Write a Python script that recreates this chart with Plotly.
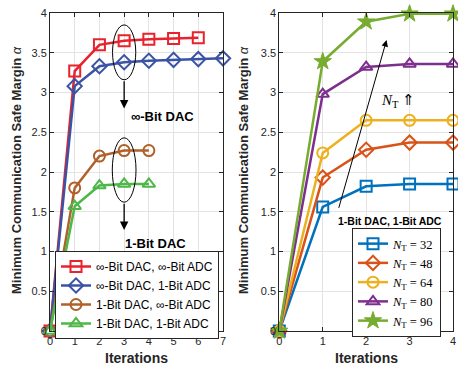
import plotly.graph_objects as go

# ---------------- data ----------------
iters_l_7 = [0, 1, 2, 3, 4, 5, 6, 7]
iters_l_6 = [0, 1, 2, 3, 4, 5, 6]
iters_l_4 = [0, 1, 2, 3, 4]
inf_dac_inf_adc = [0, 3.27, 3.60, 3.65, 3.67, 3.68, 3.69]
inf_dac_1_adc = [0, 3.08, 3.33, 3.38, 3.40, 3.41, 3.42, 3.43]
one_dac_inf_adc = [0, 1.80, 2.20, 2.27, 2.27]
one_dac_1_adc = [0, 1.57, 1.83, 1.85, 1.85]
left_names = ["∞-Bit DAC, ∞-Bit ADC", "∞-Bit DAC, 1-Bit ADC",
              "1-Bit DAC, ∞-Bit ADC", "1-Bit DAC, 1-Bit ADC"]

iters_r = [0, 1, 2, 3, 4]
nt_values = [32, 48, 64, 80, 96]
nt32 = [0, 1.56, 1.82, 1.85, 1.85]
nt48 = [0, 1.93, 2.28, 2.37, 2.37]
nt64 = [0, 2.24, 2.65, 2.65, 2.65]
nt80 = [0, 2.98, 3.32, 3.36, 3.36]
nt96 = [0, 3.39, 3.89, 3.99, 3.99]

x_ticks_left = [0, 1, 2, 3, 4, 5, 6, 7]
x_ticks_right = [0, 1, 2, 3, 4]
y_ticks = [0, 0.5, 1, 1.5, 2, 2.5, 3, 3.5, 4]
y_tick_labels = ["0", "0.5", "1", "1.5", "2", "2.5", "3", "3.5", "4"]

# ---------------- figure ----------------
W, H = 458, 367
fig = go.Figure()

left_series = [
    (iters_l_6, inf_dac_inf_adc, "#E8232D", "square-open"),
    (iters_l_7, inf_dac_1_adc, "#3B53A4", "diamond-open"),
    (iters_l_4, one_dac_inf_adc, "#B0602A", "circle-open"),
    (iters_l_4, one_dac_1_adc, "#4DB848", "triangle-up-open"),
]
for (xs, ys, col, sym), name in zip(left_series, left_names):
    fig.add_trace(go.Scatter(
        x=xs, y=ys, name=name, mode="lines+markers", xaxis="x", yaxis="y",
        line=dict(color=col, width=2.5),
        marker=dict(symbol=sym, size=11, color=col, line=dict(width=2, color=col)),
        cliponaxis=False, legend="legend"))

right_cols = ["#0072BD", "#D95319", "#EDB120", "#7E2F8E", "#77AC30"]
right_syms = ["square-open", "diamond-open", "circle-open", "triangle-up-open", "star"]
right_data = [nt32, nt48, nt64, nt80, nt96]
for nt, ys, col, sym in zip(nt_values, right_data, right_cols, right_syms):
    fig.add_trace(go.Scatter(
        x=iters_r, y=ys, name=f"<i>N</i><sub>T</sub> = {nt}", mode="lines+markers",
        xaxis="x2", yaxis="y2",
        line=dict(color=col, width=2.5),
        marker=dict(symbol=sym, size=13 if sym == "star" else 11, color=col,
                    line=dict(width=2 if sym != "star" else 1, color=col)),
        cliponaxis=False, legend="legend2"))

ydom = [(H - 331) / H, (H - 13) / H]
axis_common = dict(
    showgrid=True, gridcolor="#E3E3E3", gridwidth=1,
    showline=True, linecolor="#262626", linewidth=1, mirror="ticks",
    ticks="inside", ticklen=4, tickcolor="#262626",
    tickfont=dict(family="Liberation Sans, Arial", size=11, color="#262626"),
    zeroline=False,
)
fig.update_layout(
    width=W, height=H, margin=dict(l=0, r=0, t=0, b=0, autoexpand=False),
    plot_bgcolor="white", paper_bgcolor="white",
    font=dict(family="Liberation Sans, Arial", color="#262626"),
    xaxis=dict(domain=[50 / W, 223 / W], range=[0, 7], tickvals=x_ticks_left,
               anchor="y", **axis_common),
    yaxis=dict(domain=ydom, range=[0, 4], tickvals=y_ticks, ticktext=y_tick_labels,
               anchor="x", **axis_common),
    xaxis2=dict(domain=[279.3 / W, 453 / W], range=[0, 4], tickvals=x_ticks_right,
                anchor="y2", **axis_common),
    yaxis2=dict(domain=ydom, range=[0, 4], tickvals=y_ticks, ticktext=y_tick_labels,
                anchor="x2", **axis_common),
    legend=dict(x=55 / W, y=1 - 251 / H, xanchor="left", yanchor="top",
                bgcolor="white", bordercolor="#262626", borderwidth=1,
                font=dict(family="Liberation Sans, Arial", size=12, color="#000"),
                tracegroupgap=0, itemwidth=30),
    legend2=dict(x=352 / W, y=1 - 228 / H, xanchor="left", yanchor="top",
                 bgcolor="white", bordercolor="#262626", borderwidth=1,
                 font=dict(family="Liberation Serif, Times New Roman", size=12.5, color="#000"),
                 tracegroupgap=0, itemwidth=30),
    showlegend=True,
)

# ellipses
fig.add_shape(type="circle", xref="x", yref="y", x0=2.53, x1=3.47, y0=3.16, y1=3.85,
              line=dict(color="black", width=1))
fig.add_shape(type="circle", xref="x", yref="y", x0=2.52, x1=3.48, y0=1.62, y1=2.43,
              line=dict(color="black", width=1))

annos = [
    dict(x=3, y=2.8, ax=3, ay=3.16, xref="x", yref="y", axref="x", ayref="y",
         text="", showarrow=True, arrowhead=2, arrowsize=1.3, arrowwidth=1.3, arrowcolor="black"),
    dict(x=3, y=1.27, ax=3, ay=1.62, xref="x", yref="y", axref="x", ayref="y",
         text="", showarrow=True, arrowhead=2, arrowsize=1.3, arrowwidth=1.3, arrowcolor="black"),
    dict(x=4.55, y=2.7, xref="x", yref="y", text="<b>∞-Bit DAC</b>", showarrow=False,
         font=dict(family="Liberation Sans, Arial", size=13, color="black")),
    dict(x=4.28, y=1.1, xref="x", yref="y", text="<b>1-Bit DAC</b>", showarrow=False,
         font=dict(family="Liberation Sans, Arial", size=13, color="black")),
    dict(x=2.47, y=3.66, ax=1.36, ay=1.53, xref="x2", yref="y2", axref="x2", ayref="y2",
         text="", showarrow=True, arrowhead=2, arrowsize=1.3, arrowwidth=1, arrowcolor="black"),
    dict(x=2.73, y=2.89, xref="x2", yref="y2", text="<i>N</i><sub>T</sub> ⇑", showarrow=False,
         font=dict(family="Liberation Serif, Times New Roman", size=15, color="black")),
    dict(x=2.54, y=1.39, xref="x2", yref="y2", text="<b>1-Bit DAC, 1-Bit ADC</b>", showarrow=False,
         font=dict(family="Liberation Sans, Arial", size=10.5, color="black")),
    # axis titles
    dict(x=17 / W, y=1 - 170 / H, xref="paper", yref="paper", textangle=-90,
         xanchor="center", yanchor="middle",
         text="<b>Minimum Communication Safe Margin</b> <i>α</i>", showarrow=False,
         font=dict(family="Liberation Sans, Arial", size=13, color="#262626")),
    dict(x=244 / W, y=1 - 170 / H, xref="paper", yref="paper", textangle=-90,
         xanchor="center", yanchor="middle",
         text="<b>Minimum Communication Safe Margin</b> <i>α</i>", showarrow=False,
         font=dict(family="Liberation Sans, Arial", size=13, color="#262626")),
    dict(x=136.5 / W, y=1 - 358 / H, xref="paper", yref="paper", text="<b>Iterations</b>",
         xanchor="center", yanchor="middle",
         showarrow=False, font=dict(family="Liberation Sans, Arial", size=14, color="#262626")),
    dict(x=366 / W, y=1 - 358 / H, xref="paper", yref="paper", text="<b>Iterations</b>",
         xanchor="center", yanchor="middle",
         showarrow=False, font=dict(family="Liberation Sans, Arial", size=14, color="#262626")),
]
fig.update_layout(annotations=annos)

fig.write_html("out.html", config={"displayModeBar": False},
               post_script="document.body.style.margin='0';document.body.style.overflow='hidden';")
